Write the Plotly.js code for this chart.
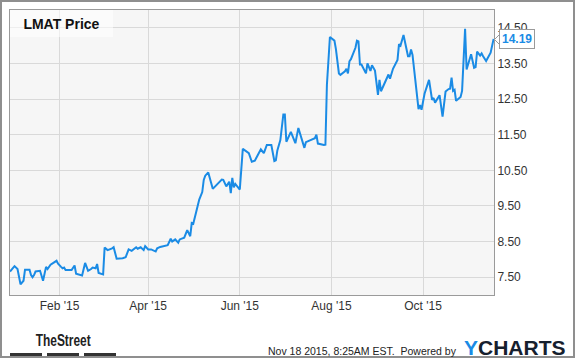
<!DOCTYPE html>
<html>
<head>
<meta charset="utf-8">
<script src="https://cdn.plot.ly/plotly-3.0.1.min.js"></script>
<style>html,body{margin:0;padding:0;background:#fff;}#chart{width:575px;height:358px;}</style>
</head>
<body>
<div id="chart"></div>
<script>
// ---- data ----
const dates = [
'2014-12-30','2015-01-02','2015-01-04','2015-01-06','2015-01-08','2015-01-09','2015-01-12','2015-01-13','2015-01-14','2015-01-15',
'2015-01-16','2015-01-19','2015-01-21','2015-01-23','2015-01-24','2015-01-26','2015-01-30','2015-01-31','2015-02-02','2015-02-03',
'2015-02-04','2015-02-05','2015-02-09','2015-02-11','2015-02-12','2015-02-16','2015-02-18','2015-02-20','2015-02-22','2015-02-23',
'2015-02-25','2015-02-26','2015-02-27','2015-03-02','2015-03-03','2015-03-05','2015-03-08',
'2015-03-09','2015-03-11','2015-03-15','2015-03-17','2015-03-19','2015-03-21','2015-03-24','2015-03-25','2015-03-27','2015-03-29',
'2015-03-30','2015-04-01','2015-04-03','2015-04-06','2015-04-07','2015-04-09','2015-04-13','2015-04-14','2015-04-16','2015-04-17',
'2015-04-19','2015-04-21','2015-04-22','2015-04-25','2015-04-27','2015-04-29','2015-04-30','2015-05-01','2015-05-03','2015-05-05',
'2015-05-07','2015-05-08','2015-05-09','2015-05-11','2015-05-14',
'2015-05-18','2015-05-20','2015-05-21','2015-05-23','2015-05-25','2015-05-26','2015-05-27','2015-05-28','2015-05-29','2015-06-01',
'2015-06-03','2015-06-07','2015-06-09','2015-06-11','2015-06-13','2015-06-15','2015-06-17','2015-06-19','2015-06-22','2015-06-24',
'2015-06-25','2015-06-26','2015-06-28','2015-06-30','2015-07-01','2015-07-02','2015-07-05','2015-07-08','2015-07-10','2015-07-14',
'2015-07-15','2015-07-19','2015-07-21','2015-07-22','2015-07-23','2015-07-27','2015-07-28','2015-07-29','2015-07-31','2015-08-03',
'2015-08-04','2015-08-06','2015-08-07','2015-08-10','2015-08-11','2015-08-12','2015-08-13','2015-08-14','2015-08-17','2015-08-18',
'2015-08-19','2015-08-20','2015-08-21','2015-08-24','2015-08-25','2015-08-27','2015-08-28','2015-08-30','2015-09-01','2015-09-02',
'2015-09-03','2015-09-08','2015-09-09','2015-09-11','2015-09-14','2015-09-15','2015-09-16','2015-09-18','2015-09-19','2015-09-21',
'2015-09-22','2015-09-23','2015-09-24','2015-09-28','2015-09-29','2015-09-30','2015-10-02','2015-10-05','2015-10-07','2015-10-08',
'2015-10-09','2015-10-12','2015-10-14','2015-10-16','2015-10-18','2015-10-19','2015-10-20','2015-10-21','2015-10-22','2015-10-23',
'2015-10-26','2015-10-27','2015-10-29','2015-10-30','2015-11-02','2015-11-04','2015-11-05','2015-11-06','2015-11-08','2015-11-09',
'2015-11-10','2015-11-12','2015-11-15','2015-11-17'
];
const prices = [
7.66,7.81,7.73,7.30,7.40,7.71,7.71,7.56,7.50,7.56,
7.66,7.68,7.40,7.79,7.73,7.85,7.96,7.88,7.79,7.75,
7.77,7.70,7.70,7.83,7.60,7.55,7.90,7.68,7.73,7.77,
7.75,7.87,7.62,7.58,8.33,8.26,8.31,
8.34,8.02,8.03,8.06,8.28,8.24,8.34,8.30,8.34,8.26,
8.37,8.28,8.28,8.22,8.31,8.35,8.39,8.40,8.58,8.50,
8.56,8.47,8.56,8.61,8.82,8.65,9.02,9.00,9.34,9.68,
9.89,10.23,10.35,10.44,9.98,
10.14,10.24,10.23,10.05,10.18,9.86,10.29,10.02,10.12,9.96,
11.10,10.98,10.74,10.77,10.93,11.09,10.98,11.21,11.21,10.76,
10.78,11.06,11.35,12.07,12.07,11.30,11.58,11.26,11.69,11.13,
11.29,11.35,11.40,11.50,11.25,11.21,11.22,12.90,14.24,14.14,
13.90,13.22,13.18,13.28,13.35,13.22,13.56,13.62,13.94,14.14,
14.12,13.47,13.47,13.22,13.50,13.29,13.45,13.30,12.62,13.04,
12.72,13.19,13.07,13.35,13.60,14.04,14.00,14.30,14.11,13.70,
13.70,13.89,13.74,12.22,12.33,12.20,12.65,13.04,12.48,12.53,
12.40,12.61,12.01,12.71,12.78,12.79,13.10,12.73,12.76,12.45,
12.56,12.73,14.47,13.33,13.76,13.38,13.40,13.83,13.72,13.78,
13.70,13.57,13.80,14.19
];
const xTickVals = ['2015-02-01','2015-04-01','2015-06-01','2015-08-01','2015-10-01'];
const xTickText = ["Feb '15","Apr '15","Jun '15","Aug '15","Oct '15"];
const yTickVals = [7.5,8.5,9.5,10.5,11.5,12.5,13.5,14.5];
const yTickText = ['7.50','8.50','9.50','10.50','11.50','12.50','13.50','14.50'];
const chartTitle = 'LMAT Price';
const footerText = 'Nov 18 2015, 8:25AM EST.\u00a0 Powered by';
const logoText = 'TheStreet';

// ---- layout geometry (pixels) ----
const W = 575, H = 358, L = 10, R = 81, T = 10, B = 63;
const PW = W - L - R, PH = H - T - B;
const px2x = p => (p - L) / PW;
const py2y = p => (H - B - p) / PH;
const lastPrice = prices[prices.length - 1];
const blue = '#1a8be5';
const font = 'Liberation Sans, Arial, sans-serif';

const trace = {
  x: dates, y: prices, type: 'scatter', mode: 'lines',
  line: {color: blue, width: 2}, hoverinfo: 'skip'
};

const bars = [[10,42],[47,79],[84,116]].map(b => ({
  type: 'rect', xref: 'paper', yref: 'paper',
  x0: px2x(b[0]), x1: px2x(b[1]), y0: py2y(356), y1: py2y(353),
  fillcolor: '#333', line: {width: 0}
}));

const layout = {
  width: W, height: H,
  margin: {l: L, r: R, t: T, b: B, pad: 0},
  paper_bgcolor: '#ffffff', plot_bgcolor: '#f6f6f6',
  showlegend: false,
  font: {family: font, size: 12, color: '#333'},
  xaxis: {
    type: 'date', range: ['2014-12-30', '2015-11-17 06:00'],
    tickmode: 'array', tickvals: xTickVals, ticktext: xTickText,
    showgrid: true, gridcolor: '#d9d9d9', gridwidth: 1,
    showline: true, linecolor: '#9a9a9a', linewidth: 1, mirror: true,
    ticks: '', zeroline: false, fixedrange: true,
    tickfont: {family: font, size: 12, color: '#333'}
  },
  yaxis: {
    side: 'right', range: [7.0, 15.0],
    tickmode: 'array', tickvals: yTickVals, ticktext: yTickText,
    showgrid: true, gridcolor: '#d9d9d9', gridwidth: 1,
    showline: true, linecolor: '#9a9a9a', linewidth: 1, mirror: true,
    ticks: '', zeroline: false, fixedrange: true,
    tickfont: {family: font, size: 12, color: '#333'}
  },
  shapes: [
    {type: 'rect', xref: 'paper', yref: 'paper', layer: 'above',
     x0: px2x(1), x1: px2x(574), y0: py2y(357), y1: py2y(1),
     line: {color: '#8f8f8f', width: 2}, fillcolor: 'rgba(0,0,0,0)'},
    {type: 'path', xref: 'paper', yref: 'paper', layer: 'above',
     path: 'M ' + px2x(500) + ' ' + py2y(34) + ' L ' + px2x(494.5) + ' ' + py2y(39.5) + ' L ' + px2x(500) + ' ' + py2y(45) + ' Z',
     fillcolor: '#ffffff', line: {color: '#9a9a9a', width: 1}}
  ].concat(bars),
  annotations: [
    {xref: 'paper', yref: 'paper', x: px2x(10), y: 1, xanchor: 'left', yanchor: 'top',
     text: '<b>' + chartTitle + '</b>', showarrow: false,
     font: {family: font, size: 14, color: '#111'},
     width: 103, height: 27, align: 'center', valign: 'middle',
     bgcolor: 'rgba(255,255,255,0.55)', borderpad: 0, borderwidth: 0},
    {xref: 'paper', yref: 'y', x: px2x(499), y: lastPrice, xanchor: 'left', yanchor: 'middle',
     text: '<b>' + lastPrice.toFixed(2) + '</b>', showarrow: false,
     font: {family: font, size: 12, color: blue},
     bgcolor: '#ffffff', bordercolor: '#9a9a9a', borderwidth: 1, borderpad: 2},
    {xref: 'paper', yref: 'paper', x: px2x(63), y: py2y(340), xanchor: 'center', yanchor: 'middle',
     text: '<b>' + logoText + '</b>', showarrow: false,
     font: {family: font, size: 17, color: '#222'}},
    {xref: 'paper', yref: 'paper', x: px2x(459), y: py2y(350.5), xanchor: 'right', yanchor: 'middle',
     text: footerText, showarrow: false,
     font: {family: font, size: 10.5, color: '#222'}},
    {xref: 'paper', yref: 'paper', x: px2x(462), y: py2y(347.5), xanchor: 'left', yanchor: 'middle',
     text: '<b><span style="color:' + blue + '">Y</span>CHARTS</b>', showarrow: false,
     font: {family: font, size: 21, color: '#16202e'}}
  ]
};

Plotly.newPlot('chart', [trace], layout, {staticPlot: true, displayModeBar: false}).then(gd => {
  // condense the logo word to the narrow width it has in the reference
  gd.querySelectorAll('.annotation-text').forEach(t => {
    if (t.textContent === logoText) {
      t.setAttribute('textLength', '55');
      t.setAttribute('lengthAdjust', 'spacingAndGlyphs');
    }
  });
});
</script>
</body>
</html>
